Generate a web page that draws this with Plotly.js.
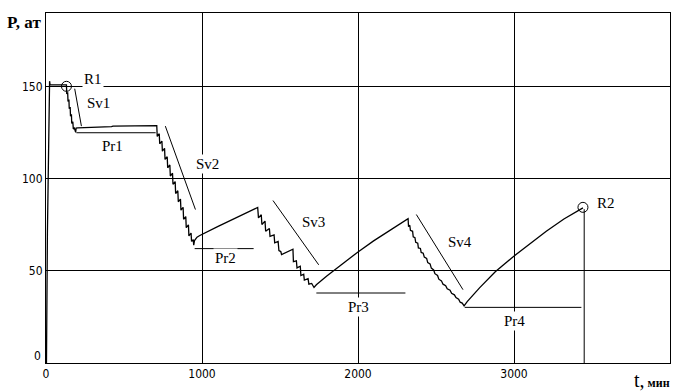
<!DOCTYPE html>
<html>
<head>
<meta charset="utf-8">
<script src="https://cdn.plot.ly/plotly-3.0.1.min.js"></script>
<style>html,body{margin:0;padding:0;background:#fff;}#chart{width:690px;height:392px;}</style>
</head>
<body>
<div id="chart"></div>
<script>
// ---- main pressure curve, segment by segment (t, min ; P, at) ----
var tStart = [0, 3, 9, 16, 22, 23, 26];
var pStart = [0, 0, 70, 125, 140, 153, 151];

var tSv1 = [131, 133, 139, 141, 147, 149, 155, 157, 163, 165, 172, 175, 182, 190];
var pSv1 = [151, 146, 147, 142, 143, 138, 139, 134, 135, 130, 131, 127, 127.5, 125.2];

var tPr1 = [193, 203, 320, 330, 420, 430, 600, 710];
var pPr1 = [127.5, 127.6, 127.8, 128.2, 128.3, 128.6, 128.7, 128.9];

var tSv2 = [713, 726, 729, 743, 746, 760, 763, 777, 780, 794, 797, 811, 814, 828, 831, 845, 848, 862, 865, 879, 882, 896, 899, 913, 916, 930, 933, 944, 947];
var pSv2 = [123, 124.5, 119, 120.5, 115, 116.5, 110.5, 112, 106, 107.5, 101.5, 103, 97, 98.5, 92, 93.5, 87.5, 89, 83, 84.5, 78, 79.5, 73.5, 75, 69, 70.5, 66, 67, 64];

var tPr2 = [952, 968, 986, 1100, 1230, 1357];
var pPr2 = [66.5, 68.3, 69.2, 74, 79.3, 84.4];

var tSv3 = [1362, 1380, 1384, 1404, 1408, 1432, 1436, 1462, 1466, 1488, 1493, 1505, 1510, 1583, 1586, 1605, 1609, 1630, 1634, 1652, 1656, 1680, 1685, 1703, 1718];
var pSv3 = [78.8, 80.5, 75.2, 77, 71.5, 73, 68.8, 69.5, 65.2, 66, 61, 60.5, 58.9, 61.8, 55, 55.5, 51.6, 52.5, 47.5, 48.2, 45, 45.8, 42.8, 43.2, 41];

var tPr3 = [1733, 1800, 1900, 2000, 2100, 2200, 2321];
var pPr3 = [42.5, 47.2, 53.9, 60.3, 66.3, 71.8, 78.4];

var tSv4 = [2324, 2332, 2336, 2350, 2354, 2365, 2370, 2383, 2387, 2400, 2405, 2418, 2425, 2440, 2447, 2462, 2470, 2485, 2493, 2510, 2518, 2535, 2545, 2562, 2572, 2590, 2600, 2618, 2628, 2645, 2655, 2668, 2680];
var pSv4 = [74, 74.8, 72, 71.5, 68.5, 68, 65.5, 65, 62.5, 62.2, 60, 59.6, 57.5, 56.8, 54.5, 53.8, 51.5, 50.5, 48.5, 47.5, 45.5, 44.6, 42.8, 42, 40.3, 39.5, 37.8, 37, 35.5, 34.6, 33, 32.5, 31];

var tPr4 = [2700, 2779, 2880, 2993, 3100, 3207, 3320, 3442];
var pPr4 = [33.3, 40.8, 49.5, 57.6, 64.8, 71.5, 78.2, 84.2];

// ---- reference points ----
var pointNames = ["R1", "R2"];
var pointT = [131, 3442];
var pointP = [150.2, 84.5];

// ---- guide lines: [t0, t1], [P0, P1] ----
var guideNames = ["Sv1", "Pr1", "Sv2", "Pr2", "Sv3", "Pr3", "Sv4", "Pr4", "R2v"];
var guideT = [[184, 227], [195, 703], [765, 958], [953, 1331], [1455, 1748], [1733, 2304], [2374, 2673], [2684, 3432], [3450, 3450]];
var guideP = [[148.9, 128.6], [125, 125], [128.6, 83.3], [62.1, 62.1], [88.2, 53.3], [38, 38], [80.6, 39.8], [30.2, 30.2], [83.5, 0]];

// ---- labels ----
var labelText = ["R1", "Sv1", "Pr1", "Sv2", "Pr2", "Sv3", "Pr3", "Sv4", "Pr4", "R2"];
var labelT = [299, 338, 424, 1033, 1149, 1712, 2000, 2657, 3004, 3592];
var labelP = [154.2, 140.9, 117.7, 108.3, 57.2, 76.5, 30.6, 65.7, 22.6, 87];

// tick values
var xTicks = [0, 1000, 2000, 3000];
var yTicks = [50, 100, 150];

var curveT = [].concat(tStart, tSv1, tPr1, tSv2, tPr2, tSv3, tPr3, tSv4, tPr4);
var curveP = [].concat(pStart, pSv1, pPr1, pSv2, pPr2, pSv3, pPr3, pSv4, pPr4);

var tickFont = {family: 'Liberation Sans Narrow, Arial Narrow, DejaVu Sans Condensed, sans-serif', size: 12, color: '#000'};
var serif = 'Liberation Serif, Times New Roman, serif';

var traces = [];
for (var i = 0; i < guideNames.length; i++) {
  traces.push({x: guideT[i], y: guideP[i], mode: 'lines', type: 'scatter',
    line: {color: '#000', width: 1}, hoverinfo: 'skip', showlegend: false});
}
traces.push({x: curveT, y: curveP, mode: 'lines', type: 'scatter',
  line: {color: '#000', width: 1.3}, showlegend: false});
traces.push({x: pointT, y: pointP, text: pointNames, mode: 'markers', type: 'scatter',
  marker: {symbol: 'circle-open', size: 10, color: '#000', line: {width: 1, color: '#000'}}, showlegend: false});

var annotations = [];
for (var j = 0; j < labelText.length; j++) {
  annotations.push({x: labelT[j], y: labelP[j], xref: 'x', yref: 'y', text: labelText[j],
    showarrow: false, bgcolor: '#fff', borderpad: 1,
    font: {family: serif, size: 15, color: '#000'}});
}
annotations.push({x: 0, y: 0, xref: 'paper', yref: 'y', xanchor: 'right', yanchor: 'bottom',
  xshift: -3, yshift: -2, text: '0', showarrow: false, font: tickFont});
annotations.push({x: -0.0657, y: 1.0, xref: 'paper', yref: 'paper', xanchor: 'left', yanchor: 'middle', yshift: -9,
  text: '<b>P, ат</b>', showarrow: false, font: {family: serif, size: 17, color: '#000'}});
annotations.push({x: 1.003, y: 0, xref: 'paper', yref: 'paper', xanchor: 'right', yanchor: 'top', yshift: -4,
  text: "<span style='font-size:20px'>t,</span> <b>мин</b>", showarrow: false,
  font: {family: serif, size: 12, color: '#000'}});

var layout = {
  width: 690, height: 392,
  margin: {l: 46, r: 20, t: 13, b: 29},
  paper_bgcolor: '#fff', plot_bgcolor: '#fff',
  showlegend: false,
  xaxis: {range: [0, 4000], tickvals: xTicks, ticktext: xTicks.map(String),
    showgrid: true, gridcolor: '#000', gridwidth: 1, zeroline: false,
    showline: true, mirror: true, linecolor: '#000', linewidth: 1, ticks: '',
    tickfont: tickFont},
  yaxis: {range: [0, 190], tickvals: yTicks, ticktext: yTicks.map(String),
    showgrid: true, gridcolor: '#000', gridwidth: 1, zeroline: false,
    showline: true, mirror: true, linecolor: '#000', linewidth: 1, ticks: '',
    tickfont: tickFont},
  annotations: annotations
};
Plotly.newPlot('chart', traces, layout, {staticPlot: true, displayModeBar: false});
</script>
</body>
</html>
